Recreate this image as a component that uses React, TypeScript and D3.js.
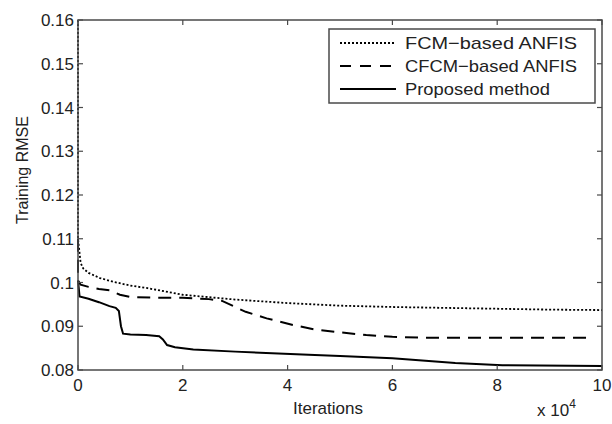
import * as d3 from 'd3';

// x values in units of 1e4 iterations
const fcmX = [0, 0, 0.05, 0.1, 0.2, 0.42, 0.7, 1.0, 1.33, 2, 3, 4, 5, 6, 7, 8, 9, 10];
const fcmY = [0.16, 0.11, 0.1045, 0.1032, 0.1022, 0.101, 0.1001, 0.0993, 0.0987, 0.0972, 0.0961, 0.0953, 0.0947, 0.0944, 0.0942, 0.094, 0.0938, 0.0937];

const cfcmX = [0, 0, 0.05, 0.2, 0.4, 0.6, 0.8, 1.0, 1.5, 2.0, 2.5, 2.75, 3.2, 3.6, 4.1, 4.5, 5.0, 5.5, 6.0, 6.5, 7, 8, 9, 9.8];
const cfcmY = [0.11, 0.1005, 0.0995, 0.099, 0.0985, 0.0982, 0.0972, 0.0967, 0.0965, 0.0965, 0.0962, 0.0958, 0.0933, 0.0918, 0.0903, 0.0893, 0.0886, 0.088, 0.0876, 0.0874, 0.0874, 0.0874, 0.0874, 0.0874];

const propX = [0, 0.03, 0.2, 0.4, 0.6, 0.72, 0.78, 0.82, 0.86, 1.0, 1.3, 1.55, 1.62, 1.7, 1.85, 2.2, 3, 4.4, 5.0, 6.0, 7.2, 8.1, 10];
const propY = [0.1005, 0.0968, 0.0963, 0.0955, 0.0946, 0.0942, 0.0935, 0.09, 0.0883, 0.0881, 0.088, 0.0877, 0.087, 0.0857, 0.0852, 0.0847, 0.0842, 0.0835, 0.0832, 0.0827, 0.0816, 0.0811, 0.0809];

const xTicks = [0, 2, 4, 6, 8, 10];
const yTicks = [0.08, 0.09, 0.1, 0.11, 0.12, 0.13, 0.14, 0.15, 0.16];
const seriesNames = ['FCM-based ANFIS', 'CFCM-based ANFIS', 'Proposed method'];

const W = 612, H = 424;
const margin = { top: 20, right: 10, bottom: 54, left: 78 };
const font = '"Liberation Sans", Arial, sans-serif';

export default function App() {
  const x = d3.scaleLinear().domain([0, 10]).range([margin.left, W - margin.right]);
  const y = d3.scaleLinear().domain([0.08, 0.16]).range([H - margin.bottom, margin.top]);
  const line = d3.line<[number, number]>().x(d => x(d[0])).y(d => y(d[1]));

  const zip = (xs: number[], ys: number[]) => xs.map((v, i) => [v, ys[i]] as [number, number]);

  const series = [
    { name: seriesNames[0], pts: zip(fcmX, fcmY), dash: '2,2', w: 1.8, len: 172 },
    { name: seriesNames[1], pts: zip(cfcmX, cfcmY), dash: '13,8', w: 2, len: 172 },
    { name: seriesNames[2], pts: zip(propX, propY), dash: null, w: 2, len: 145 },
  ];

  const x0 = x.range()[0], x1 = x.range()[1];
  const y0 = y.range()[0], y1 = y.range()[1];
  const axisColor = '#4a4a4a';
  const tl = 5;

  const legend = { x: 329, y: 29, w: 266, h: 74 };
  const rowY = [43, 66, 89];

  return (
    <svg width={W} height={H} style={{ position: 'absolute', left: 0, top: 0, background: '#fff' }}
      fontFamily={font}>
      <rect x={0} y={0} width={W} height={H} fill="#fff" />
      {series.map(s => (
        <path key={s.name} d={line(s.pts) || ''} fill="none" stroke="#000" strokeWidth={s.w}
          strokeDasharray={s.dash || undefined} />
      ))}
      {/* axes box */}
      <rect x={x0} y={y1} width={x1 - x0} height={y0 - y1} fill="none" stroke={axisColor} strokeWidth={1.5} />
      {xTicks.map(t => (
        <g key={'x' + t}>
          <line x1={x(t)} x2={x(t)} y1={y0} y2={y0 - tl} stroke={axisColor} strokeWidth={1.2} />
          <line x1={x(t)} x2={x(t)} y1={y1} y2={y1 + tl} stroke={axisColor} strokeWidth={1.2} />
          <text x={x(t)} y={y0 + 21} fontSize={17} textAnchor="middle" fill="#222">{t}</text>
        </g>
      ))}
      {yTicks.map(t => (
        <g key={'y' + t}>
          <line x1={x0} x2={x0 + tl} y1={y(t)} y2={y(t)} stroke={axisColor} strokeWidth={1.2} />
          <line x1={x1} x2={x1 - tl} y1={y(t)} y2={y(t)} stroke={axisColor} strokeWidth={1.2} />
          <text x={x0 - 4} y={y(t) + 6} fontSize={17} textAnchor="end" fill="#222">{d3.format('')(+t.toFixed(2))}</text>
        </g>
      ))}
      <text x={328} y={414} fontSize={17} textAnchor="middle" fill="#222">Iterations</text>
      <text x={537} y={416} fontSize={17} fill="#222">x 10<tspan dy={-8} fontSize={12}>4</tspan></text>
      <text transform={`translate(28,170) rotate(-90)`} fontSize={16} textAnchor="middle" fill="#222">Training RMSE</text>
      {/* legend */}
      <rect x={legend.x} y={legend.y} width={legend.w} height={legend.h} fill="#fff" stroke={axisColor} strokeWidth={1.5} />
      {series.map((s, i) => (
        <g key={'l' + i}>
          <line x1={340} x2={396} y1={rowY[i]} y2={rowY[i]} stroke="#000" strokeWidth={s.w}
            strokeDasharray={s.dash ? (i === 1 ? '11,9' : '2,2') : undefined} />
          <text x={405} y={rowY[i] + 6} fontSize={17} fill="#222" textLength={s.len}
            lengthAdjust="spacingAndGlyphs">{s.name.replace('-', '\u2212')}</text>
        </g>
      ))}
    </svg>
  );
}
